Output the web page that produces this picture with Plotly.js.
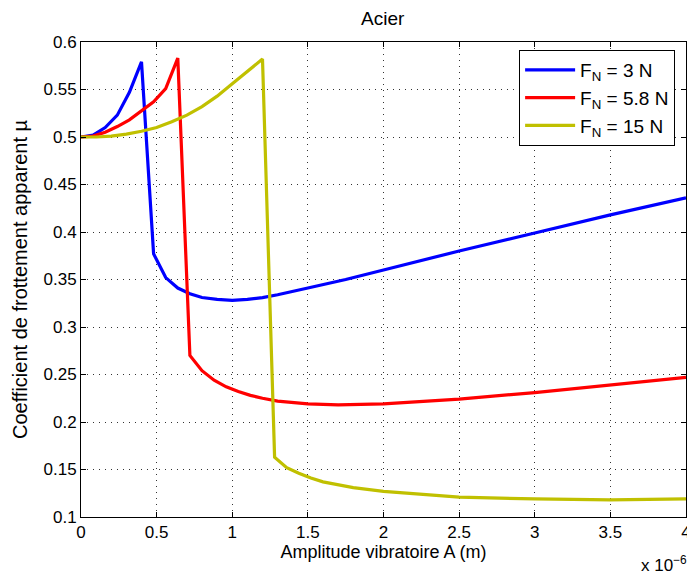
<!DOCTYPE html>
<html><head><meta charset="utf-8">
<script src="https://cdn.plot.ly/plotly-3.0.1.min.js"></script>
<style>body{margin:0;background:#fff}#c{width:687px;height:572px}</style>
</head><body><div id="c"></div>
<script>
// x values in units of 1e-6 m
const x3 = [0,0.08,0.16,0.24,0.32,0.40,0.48,0.56,0.64,0.72,0.80,0.90,1.0,1.1,1.2,1.3,1.5,1.75,2.0,2.5,3.0,3.5,4.0];
const y3 = [0.5,0.502,0.510,0.523,0.547,0.579,0.377,0.352,0.341,0.335,0.331,0.329,0.328,0.329,0.331,0.334,0.341,0.350,0.360,0.380,0.399,0.418,0.436];
const x58 = [0,0.08,0.16,0.24,0.32,0.40,0.48,0.56,0.64,0.72,0.80,0.88,0.96,1.04,1.12,1.2,1.3,1.5,1.7,2.0,2.5,3.0,3.5,4.0];
const y58 = [0.5,0.501,0.505,0.511,0.518,0.527,0.537,0.551,0.583,0.270,0.254,0.244,0.237,0.232,0.228,0.225,0.222,0.219,0.218,0.219,0.224,0.231,0.239,0.247];
const x15 = [0,0.1,0.2,0.3,0.4,0.5,0.6,0.7,0.8,0.9,1.0,1.1,1.2,1.28,1.36,1.44,1.52,1.6,1.8,2.0,2.25,2.5,3.0,3.5,4.0];
const y15 = [0.5,0.500,0.501,0.503,0.506,0.510,0.516,0.523,0.532,0.543,0.556,0.569,0.582,0.163,0.152,0.146,0.141,0.137,0.131,0.127,0.124,0.121,0.119,0.118,0.119];
const names = ['F<sub>N</sub> = 3 N','F<sub>N</sub> = 5.8 N','F<sub>N</sub> = 15 N'];
const colors = ['#0000ff','#ff0000','#c0c000'];
const xTickVals = [0,0.5,1,1.5,2,2.5,3,3.5,4];
const xTickText = ['0','0.5','1','1.5','2','2.5','3','3.5','4'];
const yTickVals = [0.1,0.15,0.2,0.25,0.3,0.35,0.4,0.45,0.5,0.55,0.6];
const yTickText = ['0.1','0.15','0.2','0.25','0.3','0.35','0.4','0.45','0.5','0.55','0.6'];
const xs=[x3,x58,x15], ys=[y3,y58,y15];
const data = xs.map((x,i)=>({x:x,y:ys[i],type:'scatter',mode:'lines',name:names[i],line:{color:colors[i],width:3.2}}));
const fam = 'Liberation Sans, Arial, sans-serif';
const tickFont = {family:fam,size:17,color:'#000'};
const axis = {showline:true,linecolor:'#000',linewidth:1,mirror:'ticks',ticks:'inside',ticklen:5,tickcolor:'#000',
  showgrid:true,gridcolor:'#333',griddash:'1px,5px',gridwidth:1,zeroline:false,tickfont:tickFont,ticklabeloverflow:'allow'};
const layout = {
  width:687,height:572,margin:{l:81,r:1,t:42,b:55},paper_bgcolor:'#fff',plot_bgcolor:'#fff',font:tickFont,
  title:{text:'Acier',font:{family:fam,size:19,color:'#000'},x:0.557,xanchor:'center',y:0.968,yanchor:'middle'},
  xaxis:Object.assign({},axis,{range:[0,4],tickvals:xTickVals,ticktext:xTickText,
    title:{text:'Amplitude vibratoire A (m)',font:{family:fam,size:18,color:'#000'},standoff:3}}),
  yaxis:Object.assign({},axis,{range:[0.1,0.6],tickvals:yTickVals,ticktext:yTickText,
    title:{text:'Coefficient de frottement apparent µ',font:{family:fam,size:20,color:'#000'},standoff:10}}),
  legend:{x:0.982,xanchor:'right',y:0.983,yanchor:'top',bgcolor:'#fff',bordercolor:'#000',borderwidth:1,font:{family:fam,size:19,color:'#000'},itemwidth:50,tracegroupgap:3},
  annotations:[{xref:'paper',yref:'paper',x:1.005,y:-0.098,xanchor:'right',yanchor:'middle',showarrow:false,text:'x 10<sup>−6</sup>',font:{family:fam,size:17,color:'#000'}}]
};
Plotly.newPlot('c',data,layout,{displayModeBar:false,staticPlot:true});
</script></body></html>
